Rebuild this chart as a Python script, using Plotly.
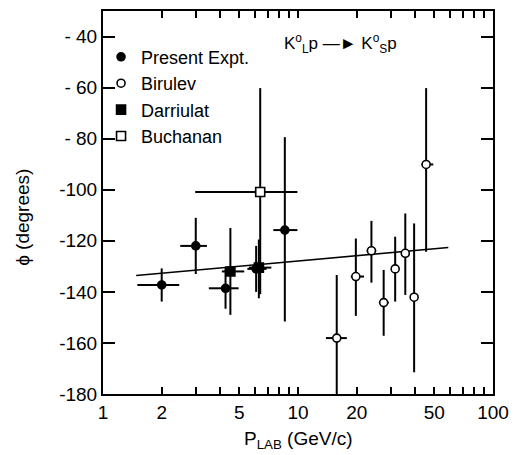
import plotly.graph_objects as go

# ---- data ----
# Present Expt. (filled circles)
pe_x = [2.0, 2.99, 4.25, 6.1, 8.56]
pe_xlo = [1.5, 2.49, 3.49, 5.5, 7.47]
pe_xhi = [2.46, 3.41, 4.96, 6.9, 9.93]
pe_y = [-137.3, -122.0, -138.6, -131.0, -115.8]
pe_yup = [6.5, 11.0, 8.0, 9.0, 36.4]
pe_ydn = [6.5, 11.0, 8.0, 9.0, 35.8]

# Birulev (open circles)
bi_x = [15.8, 19.8, 23.8, 27.5, 31.5, 35.5, 39.4, 45.4]
bi_xlo = [13.9, 18.65, 22.5, 26.0, 30.5, 34.5, 38.5, 43.0]
bi_xhi = [17.8, 21.8, 25.2, 29.2, 32.5, 36.5, 40.3, 49.4]
bi_y = [-158.1, -134.0, -123.9, -144.2, -131.0, -124.9, -142.1, -90.1]
bi_yup = [24.7, 14.9, 11.7, 12.8, 12.6, 15.6, 28.9, 29.9]
bi_ydn = [21.9, 15.4, 12.5, 13.0, 12.8, 16.3, 29.4, 34.2]

# Darriulat (filled squares)
da_x = [4.5, 6.3]
da_xlo = [4.07, 5.6]
da_xhi = [5.3, 7.3]
da_y = [-132.0, -130.5]
da_yup = [17.0, 11.0]
da_ydn = [17.0, 12.0]

# Buchanan (open square)
bu_x = [6.4]
bu_xlo = [2.97]
bu_xhi = [9.93]
bu_y = [-100.9]
bu_yup = [40.7]
bu_ydn = [40.0]

# fitted line
fit_x = [1.48, 59.0]
fit_y = [-133.6, -122.6]

x_tickvals = [1, 2, 5, 10, 20, 50, 100]
x_ticktext = ["1", "2", "5", "10", "20", "50", "100"]
x_minor = [3, 4, 6, 7, 8, 9, 30, 40, 60, 70, 80, 90]
y_tickvals = [-180, -160, -140, -120, -100, -80, -60, -40]
y_ticktext = ["-180", "-160", "-140", "-120", "-100", "- 80", "- 60", "- 40"]

FONT = "Liberation Sans, Arial, sans-serif"


def errs(x, lo, hi):
    plus = [h - v for v, h in zip(x, hi)]
    minus = [v - l for v, l in zip(x, lo)]
    return plus, minus


fig = go.Figure()

fig.add_trace(go.Scatter(x=fit_x, y=fit_y, mode="lines",
                         line=dict(color="black", width=1.6),
                         showlegend=False, hoverinfo="skip"))


def add_series(name, x, lo, hi, y, up, dn, symbol, fill, size):
    px, mx = errs(x, lo, hi)
    fig.add_trace(go.Scatter(
        x=x, y=y, mode="markers", name=name,
        marker=dict(symbol=symbol, size=size, color=fill,
                    line=dict(color="black", width=1.6)),
        error_x=dict(type="data", symmetric=False, array=px, arrayminus=mx,
                     color="black", thickness=2, width=0),
        error_y=dict(type="data", symmetric=False, array=up, arrayminus=dn,
                     color="black", thickness=2, width=0),
    ))


add_series("Present Expt.", pe_x, pe_xlo, pe_xhi, pe_y, pe_yup, pe_ydn,
           "circle", "black", 8)
add_series("Birulev", bi_x, bi_xlo, bi_xhi, bi_y, bi_yup, bi_ydn,
           "circle", "white", 8)
add_series("Darriulat", da_x, da_xlo, da_xhi, da_y, da_yup, da_ydn,
           "square", "black", 9)
add_series("Buchanan", bu_x, bu_xlo, bu_xhi, bu_y, bu_yup, bu_ydn,
           "square", "white", 9)

fig.update_layout(
    width=518, height=455,
    margin=dict(l=103, r=21, t=9, b=61),
    paper_bgcolor="white", plot_bgcolor="white",
    font=dict(family=FONT, color="black", size=18),
    showlegend=True,
    legend=dict(x=-0.005, y=0.928, xanchor="left", yanchor="top",
                bgcolor="rgba(0,0,0,0)", font=dict(size=18, family=FONT),
                tracegroupgap=0, itemwidth=30),
    xaxis=dict(type="log", range=[0, 2], tickmode="array",
               tickvals=x_tickvals, ticktext=x_ticktext,
               ticks="inside", ticklen=7, tickwidth=1.6, tickcolor="black",
               showline=True, linecolor="black", linewidth=2, mirror="allticks",
               showgrid=False, zeroline=False,
               tickfont=dict(size=19, family=FONT),
               minor=dict(tickmode="array", tickvals=x_minor, ticks="inside",
                          ticklen=7, tickwidth=1.6, tickcolor="black",
                          showgrid=False)),
    yaxis=dict(range=[-180, -30], tickmode="array",
               tickvals=y_tickvals, ticktext=y_ticktext,
               ticks="inside", ticklen=12, tickwidth=1.6, tickcolor="black",
               showline=True, linecolor="black", linewidth=2, mirror="allticks",
               showgrid=False, zeroline=False,
               tickfont=dict(size=19, family=FONT)),
    annotations=[
        dict(text="K<sup>o</sup><sub>L</sub>p —► K<sup>o</sup><sub>S</sub>p",
             xref="paper", yref="paper", x=0.61, y=0.915,
             xanchor="center", yanchor="middle", showarrow=False,
             font=dict(size=17, family=FONT)),
        dict(text="ϕ (degrees)", xref="paper", yref="paper",
             x=-0.205, y=0.46, xanchor="center", yanchor="middle",
             textangle=-90, showarrow=False, font=dict(size=19, family=FONT)),
        dict(text="P<sub>LAB</sub> (GeV/c)", xref="paper", yref="paper",
             x=0.5, y=-0.12, xanchor="center", yanchor="middle",
             showarrow=False, font=dict(size=19, family=FONT)),
    ],
)

fig.write_html("out.html")
